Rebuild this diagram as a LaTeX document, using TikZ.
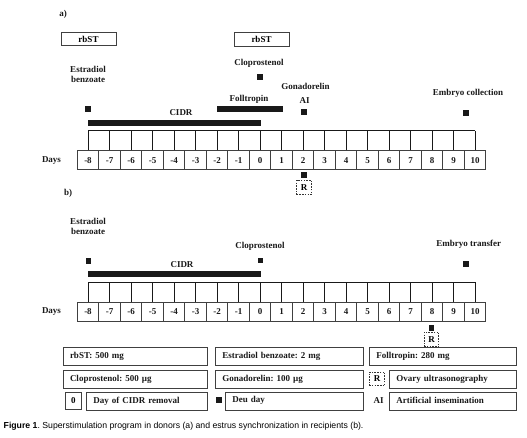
\documentclass[tikz,border=0pt]{standalone}
\usepackage{fontspec}
\usetikzlibrary{calc}
\setmainfont{Liberation Serif}
\newfontfamily\capfont{Liberation Sans}
\frenchspacing
\begin{document}
\begin{tikzpicture}[x=1pt,y=-1pt,
  lbl/.style={font=\fontsize{9}{10.5}\selectfont\bfseries, inner sep=0, text=black!90},
  sq/.style={fill=black!90, minimum size=5.5, inner sep=0},
  barr/.style={fill=black!90},
  daybox/.style={draw=black!75, line width=0.6, minimum width=21.5, minimum height=18.8, inner sep=0, font=\fontsize{9}{10.5}\selectfont\bfseries, text=black!90},
  gridl/.style={draw=black!90, line width=0.8},
  rbox/.style={draw=black!75, line width=0.6, minimum width=55, minimum height=13.5, inner sep=0, font=\fontsize{9}{10.5}\selectfont\bfseries},
  dbox/.style={draw=black!80, dashed, dash pattern=on 1.5pt off 1.2pt, line width=0.6, minimum width=14.5, minimum height=14.5, inner sep=0, font=\fontsize{9}{10.5}\selectfont\bfseries},
  legbox/.style={draw=black!75, line width=0.6, minimum height=18, inner ysep=0, inner xsep=7, text width=#1, align=left, anchor=west, font=\fontsize{9}{10.5}\selectfont\bfseries, text=black!90},
]
\useasboundingbox (0,0) rectangle (527,437);

% ---------- part a ----------
\node[lbl] (alab) at (63,14) {a)};
\node[rbox] (rb1) at (88.5,39) {rbST};
\node[rbox] (rb2) at (261.5,39.5) {rbST};
\node[lbl, align=center] (eba) at (88,74.5) {Estradiol\\benzoate};
\node[sq] (ebsqa) at (88,109) {};
\node[lbl] (cidra) at (181,113) {CIDR};
\fill[barr] (88,119.5) rectangle (260.5,125.5);
\node[lbl] (cloa) at (259,63) {Cloprostenol};
\node[sq] (closqa) at (260,77) {};
\node[lbl] (fol) at (249,99.5) {Folltropin};
\fill[barr] (217,106) rectangle (283,111.8);
\node[lbl] (gon) at (305.5,86) {Gonadorelin};
\node[lbl] (ai) at (304.5,101) {AI};
\node[sq] (aisq) at (304,112) {};
\node[lbl] (emc) at (468,93) {Embryo collection};
\node[sq] (emcsq) at (466,113) {};
\node[lbl] (daysa) at (51.5,160.5) {Days};

\foreach \d [count=\i from 0] in {-8,-7,-6,-5,-4,-3,-2,-1,0,1,2,3,4,5,6,7,8,9,10} {
  \node[daybox] (a\i) at (88+21.5*\i,160.1) {\d};
  \draw[gridl] (a\i.north) -- ++(0,-19.7);
}
\draw[gridl] ($(a0.north)+(0,-19.7)$) -- ($(a18.north)+(0,-19.7)$);
\node[sq] (rsqa) at (304,175) {};
\node[dbox] (ra) at (304,187.5) {R};

% ---------- part b ----------
\node[lbl] (blab) at (68,193) {b)};
\node[lbl, align=center] (ebb) at (88,226.5) {Estradiol\\benzoate};
\node[sq] (ebsqb) at (88.5,261) {};
\node[lbl] (cidrb) at (182,264.3) {CIDR};
\fill[barr] (88,271) rectangle (260.5,277);
\node[lbl] (clob) at (260,246.7) {Cloprostenol};
\node[sq] (closqb) at (260.5,260.5) {};
\node[lbl] (emt) at (468.7,244.3) {Embryo transfer};
\node[sq] (emtsq) at (466,264) {};
\node[lbl] (daysb) at (51.5,312) {Days};

\foreach \d [count=\i from 0] in {-8,-7,-6,-5,-4,-3,-2,-1,0,1,2,3,4,5,6,7,8,9,10} {
  \node[daybox] (b\i) at (88+21.5*\i,311.6) {\d};
  \draw[gridl] (b\i.north) -- ++(0,-20);
}
\draw[gridl] ($(b0.north)+(0,-20)$) -- ($(b18.north)+(0,-20)$);
\node[sq] (rsqb) at (431.5,328) {};
\node[dbox] (rb) at (431.5,339.5) {R};

% ---------- legend ----------
\node[legbox=130.6] (l11) at (62.7,356.7) {rbST: 500 mg};
\node[legbox=134] (l12) at (215,356.7) {Estradiol benzoate: 2 mg};
\node[legbox=132.5] (l13) at (369,356.7) {Folltropin: 280 mg};
\node[legbox=130.6] (l21) at (62.7,379) {Cloprostenol: 500 µg};
\node[legbox=134] (l22) at (215,379) {Gonadorelin: 100 µg};
\node[dbox, minimum width=15.5, minimum height=13.5] (l23r) at (377,379) {R};
\node[legbox=112.5] (l23) at (389,379) {Ovary ultrasonography};
\node[draw=black!75, line width=0.6, minimum width=16.7, minimum height=17, inner sep=0, font=\fontsize{9}{10.5}\selectfont\bfseries] (l31z) at (73.3,400.8) {0};
\node[legbox=107.3] (l31) at (86,400.8) {Day of CIDR removal};
\node[sq] (l32sq) at (218.8,400) {};
\node[legbox=124] (l32) at (225,400.8) {Deu day};
\node[lbl] (l33ai) at (378.5,401) {AI};
\node[legbox=112.5] (l33) at (389,400.8) {Artificial insemination};

% ---------- caption ----------
\node[anchor=west, inner sep=0, font=\capfont\fontsize{8.7}{10}\selectfont] (cap) at (3.5,426.7)
  {\textbf{Figure 1}. Superstimulation program in donors (a) and estrus synchronization in recipients (b).};
\end{tikzpicture}
\end{document}
